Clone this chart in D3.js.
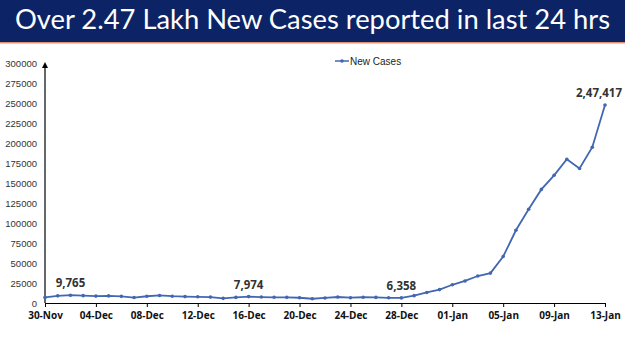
<!DOCTYPE html>
<html>
<head>
<meta charset="utf-8">
<script src="https://cdnjs.cloudflare.com/ajax/libs/d3/7.8.5/d3.min.js"></script>
<style>
  body { margin: 0; background: #fff; }
  svg { display: block; }
</style>
</head>
<body>
<div id="chart"></div>
<script>
// chart data
const title = "Over 2.47 Lakh New Cases reported in last 24 hrs";
const seriesName = "New Cases";
const dates = [
  "30-Nov", "01-Dec", "02-Dec", "03-Dec", "04-Dec", "05-Dec", "06-Dec", "07-Dec", "08-Dec",
  "09-Dec", "10-Dec", "11-Dec", "12-Dec", "13-Dec", "14-Dec", "15-Dec", "16-Dec", "17-Dec",
  "18-Dec", "19-Dec", "20-Dec", "21-Dec", "22-Dec", "23-Dec", "24-Dec", "25-Dec", "26-Dec",
  "27-Dec", "28-Dec", "29-Dec", "30-Dec", "31-Dec", "01-Jan", "02-Jan", "03-Jan", "04-Jan",
  "05-Jan", "06-Jan", "07-Jan", "08-Jan", "09-Jan", "10-Jan", "11-Jan", "12-Jan", "13-Jan"
];
const newCases = [
  6990, 8954, 9765, 9216, 8603, 8895, 8306, 6822, 8439,
  9419, 8503, 7992, 7774, 7350, 5784, 6984, 7974, 7447,
  7145, 7081, 6563, 5326, 6317, 7495, 6650, 7189, 6987,
  6531, 6358, 9195, 13154, 16764, 22775, 27553, 33750, 37379,
  58097, 90928, 117100, 141986, 159632, 179723, 168063, 194720, 247417
];
const xTickLabels = ["30-Nov", "04-Dec", "08-Dec", "12-Dec", "16-Dec", "20-Dec",
  "24-Dec", "28-Dec", "01-Jan", "05-Jan", "09-Jan", "13-Jan"];
const yTicks = [0, 25000, 50000, 75000, 100000, 125000, 150000, 175000,
  200000, 225000, 250000, 275000, 300000];
const labelled = ["02-Dec", "16-Dec", "28-Dec", "13-Jan"];

const width = 625, height = 351;
const margin = { top: 63, right: 20, bottom: 48, left: 45 };

// Indian digit grouping, e.g. 2,47,417
function indianFormat(v) {
  const s = String(v);
  if (s.length <= 3) return s;
  const last3 = s.slice(-3);
  const rest = s.slice(0, -3).replace(/\B(?=(\d{2})+(?!\d))/g, ",");
  return rest + "," + last3;
}

const svg = d3.select("#chart")
  .append("svg")
  .attr("width", width)
  .attr("height", height);

// title banner
svg.append("rect")
  .attr("x", 0).attr("y", 0)
  .attr("width", width).attr("height", 42)
  .attr("fill", "#0c2466");
svg.append("rect")
  .attr("x", 0).attr("y", 42)
  .attr("width", width).attr("height", 1.5)
  .attr("fill", "#e2916c");
svg.append("text")
  .attr("x", 15)
  .attr("y", 29)
  .attr("textLength", 595)
  .attr("lengthAdjust", "spacingAndGlyphs")
  .attr("fill", "#ffffff")
  .style("font-family", "Lato, 'Open Sans', sans-serif")
  .style("font-size", "26px")
  .text(title);

const x = d3.scalePoint()
  .domain(dates)
  .range([margin.left, width - margin.right]);

const y = d3.scaleLinear()
  .domain([0, 300000])
  .range([height - margin.bottom, margin.top]);

// y axis: line with arrow, labels only
svg.append("defs").append("marker")
  .attr("id", "arrow")
  .attr("viewBox", "0 0 10 10")
  .attr("refX", 5).attr("refY", 5)
  .attr("markerWidth", 5).attr("markerHeight", 6)
  .attr("orient", "auto")
  .append("path")
  .attr("d", "M0,0 L10,5 L0,10 z")
  .attr("fill", "#000");

svg.append("line")
  .attr("x1", margin.left).attr("x2", margin.left)
  .attr("y1", y(0)).attr("y2", y(300000) + 2)
  .attr("stroke", "#000")
  .attr("stroke-width", 1.2)
  .attr("marker-end", "url(#arrow)");

const yAxis = svg.append("g")
  .attr("transform", `translate(${margin.left},0)`)
  .call(d3.axisLeft(y).tickValues(yTicks).tickSize(0).tickPadding(8).tickFormat(d3.format("d")));
yAxis.select(".domain").remove();
yAxis.selectAll("text")
  .attr("fill", "#333")
  .style("font-family", "'Liberation Sans Narrow', 'Liberation Sans', sans-serif")
  .style("font-size", "9.5px");

// x axis
const xAxis = svg.append("g")
  .attr("transform", `translate(0,${y(0)})`)
  .call(d3.axisBottom(x).tickValues(xTickLabels).tickSize(4).tickSizeOuter(0).tickPadding(5));
xAxis.select(".domain").attr("stroke", "#000").attr("stroke-width", 1);
xAxis.selectAll(".tick line").attr("stroke", "#000");
xAxis.selectAll("text")
  .attr("fill", "#111")
  .style("font-family", "'Open Sans', sans-serif")
  .style("font-weight", "bold")
  .style("font-size", "10px");

// line
const lineColor = "#4267b2";
svg.append("path")
  .datum(newCases)
  .attr("fill", "none")
  .attr("stroke", lineColor)
  .attr("stroke-width", 1.8)
  .attr("d", d3.line()
    .x((d, i) => x(dates[i]))
    .y(d => y(d)));

svg.append("g")
  .selectAll("circle")
  .data(newCases)
  .join("circle")
  .attr("cx", (d, i) => x(dates[i]))
  .attr("cy", d => y(d))
  .attr("r", 1.8)
  .attr("fill", lineColor);

// value labels
svg.append("g")
  .selectAll("text")
  .data(labelled)
  .join("text")
  .attr("x", d => Math.min(x(d), width - 26))
  .attr("y", d => y(newCases[dates.indexOf(d)]) - 8)
  .attr("text-anchor", "middle")
  .attr("fill", "#333")
  .style("font-family", "'Open Sans', sans-serif")
  .style("font-weight", "bold")
  .style("font-size", "11.5px")
  .text(d => indianFormat(newCases[dates.indexOf(d)]));

// legend
const legend = svg.append("g").attr("transform", "translate(335,61)");
legend.append("line")
  .attr("x1", 0).attr("x2", 14)
  .attr("stroke", lineColor).attr("stroke-width", 1.5);
legend.append("circle")
  .attr("cx", 7).attr("r", 1.8).attr("fill", lineColor);
legend.append("text")
  .attr("x", 15).attr("y", 3.5)
  .attr("fill", "#222")
  .style("font-family", "'Liberation Sans Narrow', 'Liberation Sans', sans-serif")
  .style("font-size", "10px")
  .text(seriesName);
</script>
</body>
</html>
